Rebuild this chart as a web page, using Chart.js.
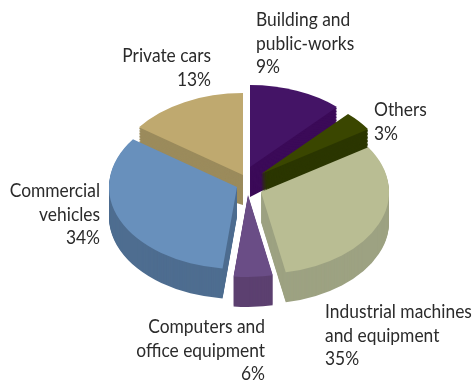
<!DOCTYPE html>
<html>
<head>
<meta charset="utf-8">
<title>Pie chart</title>
<script src="https://cdn.jsdelivr.net/npm/chart.js@4"></script>
<style>
html, body { margin: 0; padding: 0; background: #fff; }
canvas { display: block; }
</style>
</head>
<body>
<canvas id="pie" width="473" height="383"></canvas>
<script>
const categories = ['Building and public-works', 'Others', 'Industrial machines and equipment', 'Computers and office equipment', 'Commercial vehicles', 'Private cars'];
// the percentages printed on the chart
const printedShares = [9, 3, 35, 6, 34, 13];
// slice sizes, the drawn slices don't follow the printed numbers
const drawnShares = [11.9, 3.9, 31.1, 4.9, 33.1, 15.1];

const labelLines = [
    ['Building and', 'public-works'],
    ['Others'],
    ['Industrial machines', 'and equipment'],
    ['Computers and', 'office equipment'],
    ['Commercial', 'vehicles'],
    ['Private cars']
];

// styling
const topColors = ['#441466', '#3a4600', '#b9bd93', '#6a4d86', '#6890bc', '#bfa96f'];
const wallColors = ['#3b0a58', '#2b3600', '#9da282', '#5c4070', '#4e6d90', '#9b8b5c'];
const shiftX = [0, 11, 11, -2, -13, -7];
const shiftY = [-16, -9, 9, 12, 4, -8];
const backShrink = [0.25, 0.27, 0, 0, 0, 0.34];
const drawOrder = [5, 0, 1, 4, 2, 3];
const labelX = [256, 374, 325, 265, 100, 211];
const labelY = [26, 116, 318, 333, 197, 62];
const labelAlign = ['left', 'left', 'left', 'right', 'right', 'right'];
const lineGap = 23.5;
const textSqueeze = 0.94;
const flatten = 0.64;
const depth = 30;

function drawSlice(ctx, el, i, color, k) {
    const arc = Object.create(el);
    arc.options = { ...el.options, backgroundColor: color, borderWidth: 0 };
    const squash = flatten * (1 - backShrink[i] * k / depth);
    ctx.save();
    ctx.translate(el.x + shiftX[i], el.y + shiftY[i] + k);
    ctx.scale(1, squash);
    ctx.translate(-el.x, -el.y);
    arc.draw(ctx);
    ctx.restore();
}

const pie3d = {
    id: 'pie3d',
    beforeDatasetsDraw(chart) {
        const ctx = chart.ctx;
        const arcs = chart.getDatasetMeta(0).data;
        drawOrder.forEach(i => {
            for (let k = depth; k > 0; k--) {
                drawSlice(ctx, arcs[i], i, wallColors[i], k);
            }
            drawSlice(ctx, arcs[i], i, topColors[i], 0);
        });
        return false;
    },
    afterDraw(chart) {
        const ctx = chart.ctx;
        ctx.save();
        ctx.fillStyle = '#2b2b2b';
        ctx.font = '18.5px Lato';
        ctx.textBaseline = 'alphabetic';
        labelLines.forEach((lines, i) => {
            ctx.textAlign = labelAlign[i];
            const rows = lines.concat(printedShares[i] + '%');
            rows.forEach((row, r) => {
                const maxWidth = ctx.measureText(row).width * textSqueeze;
                ctx.fillText(row, labelX[i], labelY[i] + r * lineGap, maxWidth);
            });
        });
        ctx.restore();
    }
};

new Chart(document.getElementById('pie'), {
    type: 'pie',
    data: {
        labels: categories,
        datasets: [{
            data: drawnShares,
            backgroundColor: topColors,
            borderWidth: 0,
            radius: 128
        }]
    },
    options: {
        responsive: false,
        animation: false,
        layout: { padding: { left: 27, bottom: 17 } },
        plugins: { legend: { display: false }, tooltip: { enabled: false } }
    },
    plugins: [pie3d]
});
</script>
</body>
</html>
